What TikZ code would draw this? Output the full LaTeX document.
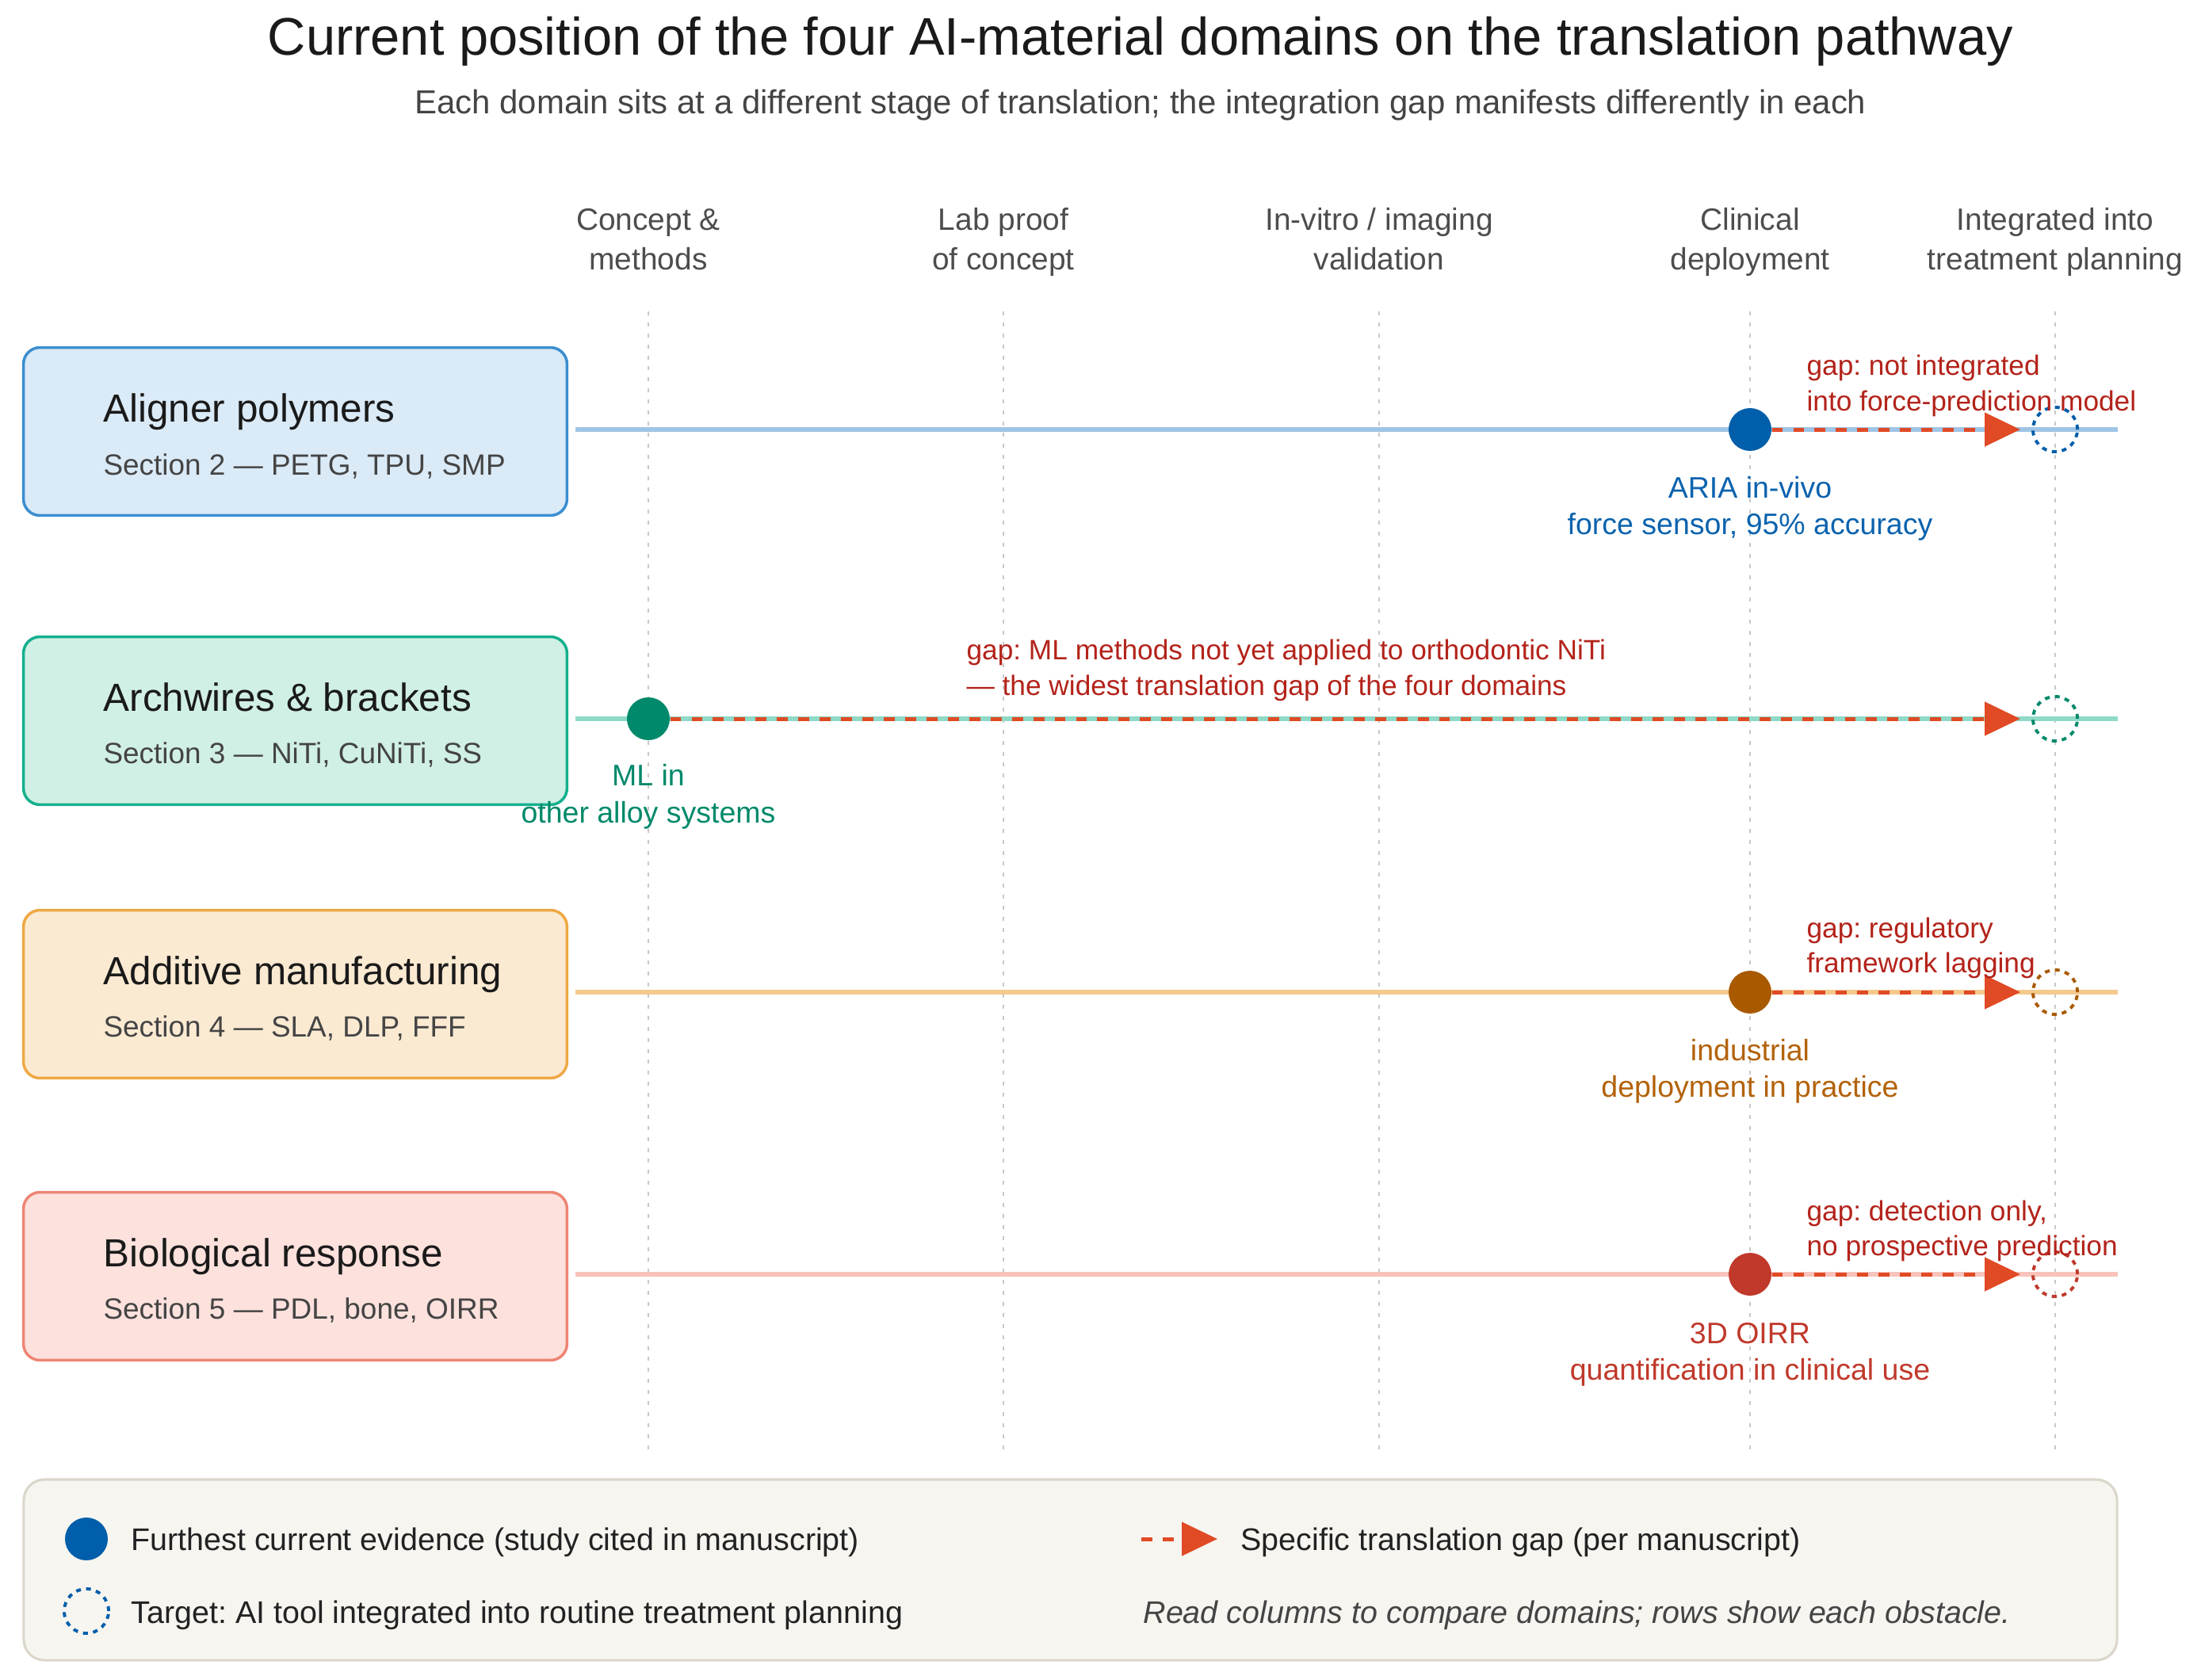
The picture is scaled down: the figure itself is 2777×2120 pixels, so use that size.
\documentclass[tikz,border=0pt]{standalone}
\usepackage{fontspec}
\setmainfont{Liberation Sans}
\usetikzlibrary{arrows.meta}
\frenchspacing
\definecolor{titlec}{HTML}{1A1A1A}
\definecolor{subc}{HTML}{444444}
\definecolor{hdrc}{HTML}{4D4D4D}
\definecolor{legtxt}{HTML}{222222}
\definecolor{vlinec}{HTML}{C8C8C8}
\definecolor{gaptext}{HTML}{B3231A}
\definecolor{gaparrow}{HTML}{E04A25}
\definecolor{fillA}{HTML}{DAEAF7}\definecolor{edgeA}{HTML}{3B8ED0}\definecolor{lineA}{HTML}{9FC4E5}\definecolor{dotA}{HTML}{005EAA}\definecolor{labA}{HTML}{0B63AE}
\definecolor{fillB}{HTML}{D1F0E5}\definecolor{edgeB}{HTML}{14B08E}\definecolor{lineB}{HTML}{8FD9C7}\definecolor{dotB}{HTML}{00896A}\definecolor{labB}{HTML}{00896A}
\definecolor{fillC}{HTML}{FBEAD2}\definecolor{edgeC}{HTML}{EEA843}\definecolor{lineC}{HTML}{F4C98E}\definecolor{dotC}{HTML}{A95A00}\definecolor{labC}{HTML}{B3620A}
\definecolor{fillD}{HTML}{FDE1DD}\definecolor{edgeD}{HTML}{EE8575}\definecolor{lineD}{HTML}{F8C3BB}\definecolor{dotD}{HTML}{C0392B}\definecolor{labD}{HTML}{C0392B}
\definecolor{legfill}{HTML}{F7F5F0}\definecolor{legedge}{HTML}{DBD6CA}
\tikzset{
  domainbox/.style={draw, line width=1.26pt, rounded corners=7.5pt, minimum width=246.9pt, minimum height=76.3pt, inner sep=0pt},
  boxtitle/.style={anchor=base west, font=\fontsize{17.8}{21}\selectfont, text=titlec, inner sep=0pt},
  boxsub/.style={anchor=base west, font=\fontsize{13.3}{16}\selectfont, text=subc, inner sep=0pt},
  hdr/.style={anchor=base, font=\fontsize{14}{17}\selectfont, text=hdrc, inner sep=0pt},
  dotlabel/.style={anchor=base, font=\fontsize{13.5}{16}\selectfont, inner sep=0pt},
  gaplabel/.style={anchor=base west, font=\fontsize{12.7}{15}\selectfont, text=gaptext, inner sep=0pt},
  legtext/.style={anchor=base west, font=\fontsize{14.2}{17}\selectfont, text=legtxt, inner sep=0pt},
  evid/.style={circle, minimum size=19.44pt, inner sep=0pt},
  target/.style={circle, draw, minimum size=20.2pt, line width=1.4pt, dash pattern=on 2.2pt off 2.4pt, inner sep=0pt},
  rowline/.style={line width=2.2pt},
  gapline/.style={draw=gaparrow, line width=1.8pt, dash pattern=on 5pt off 4.7pt, -{Triangle[length=16.2pt, width=15.1pt]}},
  vline/.style={draw=vlinec, line width=0.9pt, dash pattern=on 1.8pt off 3.2pt}
}
\begin{document}
\begin{tikzpicture}[x=0.36pt, y=-0.36pt]
\useasboundingbox (0,0) rectangle (2777,2120);
\fill[white] (0,0) rectangle (2777,2120);

% title
\node[anchor=base, font=\fontsize{24.05}{28}\selectfont, text=titlec, inner sep=0pt] (title) at (1439,69) {Current position of the four AI-material domains on the translation pathway};
\node[anchor=base, font=\fontsize{15.1}{18}\selectfont, text=subc, inner sep=0pt] (subtitle) at (1439,143) {Each domain sits at a different stage of translation; the integration gap manifests differently in each};

% column headers
\node[hdr] (h1a) at (818,290) {Concept \&};
\node[hdr] (h1b) at (818,340) {methods};
\node[hdr] (h2a) at (1266,290) {Lab proof};
\node[hdr] (h2b) at (1266,340) {of concept};
\node[hdr] (h3a) at (1740,290) {In-vitro / imaging};
\node[hdr] (h3b) at (1740,340) {validation};
\node[hdr] (h4a) at (2208,290) {Clinical};
\node[hdr] (h4b) at (2208,340) {deployment};
\node[hdr] (h5a) at (2593,290) {Integrated into};
\node[hdr] (h5b) at (2593,340) {treatment planning};

% vertical dotted column lines
\foreach \cx/\cn in {818/1,1266/2,1740/3,2208/4,2593/5}{
  \coordinate (vt\cn) at (\cx,393);
  \coordinate (vb\cn) at (\cx,1833);
  \draw[vline] (vt\cn) -- (vb\cn);
}

% ---------- Row A: Aligner polymers ----------
\node[domainbox, fill=fillA, draw=edgeA] (boxA) at (372.5,544.5) {};
\node[boxtitle] (titA) at (130,532) {Aligner polymers};
\node[boxsub] (subA) at (130,599) {Section 2 --- PETG, TPU, SMP};
\coordinate (rowAs) at (726,542);
\coordinate (rowAe) at (2672,542);
\draw[rowline, lineA] (rowAs) -- (rowAe);
\node[evid, fill=dotA] (dotA) at (2208,542) {};
\coordinate (tipA) at (2549,542);
\draw[gapline] (dotA.east) -- (tipA);
\node[target, draw=dotA] (tgtA) at (2593,542) {};
\node[dotlabel, text=labA] (labA1) at (2208,628) {ARIA in-vivo};
\node[dotlabel, text=labA] (labA2) at (2208,674) {force sensor, 95\% accuracy};
\node[gaplabel] (gapA1) at (2279,473) {gap: not integrated};
\node[gaplabel] (gapA2) at (2279,518) {into force-prediction model};

% ---------- Row B: Archwires & brackets ----------
\node[domainbox, fill=fillB, draw=edgeB] (boxB) at (372.5,909.5) {};
\node[boxtitle] (titB) at (130,897) {Archwires \& brackets};
\node[boxsub] (subB) at (130,963) {Section 3 --- NiTi, CuNiTi, SS};
\coordinate (rowBs) at (726,907);
\coordinate (rowBe) at (2672,907);
\draw[rowline, lineB] (rowBs) -- (rowBe);
\node[evid, fill=dotB] (dotB) at (818,907) {};
\coordinate (tipB) at (2549,907);
\draw[gapline] (dotB.east) -- (tipB);
\node[target, draw=dotB] (tgtB) at (2593,907) {};
\node[dotlabel, text=labB] (labB1) at (818,991) {ML in};
\node[dotlabel, text=labB] (labB2) at (818,1038) {other alloy systems};
\node[gaplabel] (gapB1) at (1219,832) {gap: ML methods not yet applied to orthodontic NiTi};
\node[gaplabel] (gapB2) at (1219,877) {--- the widest translation gap of the four domains};

% ---------- Row C: Additive manufacturing ----------
\node[domainbox, fill=fillC, draw=edgeC] (boxC) at (372.5,1254.5) {};
\node[boxtitle] (titC) at (130,1242) {Additive manufacturing};
\node[boxsub] (subC) at (130,1308) {Section 4 --- SLA, DLP, FFF};
\coordinate (rowCs) at (726,1252);
\coordinate (rowCe) at (2672,1252);
\draw[rowline, lineC] (rowCs) -- (rowCe);
\node[evid, fill=dotC] (dotC) at (2208,1252) {};
\coordinate (tipC) at (2549,1252);
\draw[gapline] (dotC.east) -- (tipC);
\node[target, draw=dotC] (tgtC) at (2593,1252) {};
\node[dotlabel, text=labC] (labC1) at (2208,1338) {industrial};
\node[dotlabel, text=labC] (labC2) at (2208,1384) {deployment in practice};
\node[gaplabel] (gapC1) at (2279,1183) {gap: regulatory};
\node[gaplabel] (gapC2) at (2279,1227) {framework lagging};

% ---------- Row D: Biological response ----------
\node[domainbox, fill=fillD, draw=edgeD] (boxD) at (372.5,1610.5) {};
\node[boxtitle] (titD) at (130,1598) {Biological response};
\node[boxsub] (subD) at (130,1664) {Section 5 --- PDL, bone, OIRR};
\coordinate (rowDs) at (726,1608);
\coordinate (rowDe) at (2672,1608);
\draw[rowline, lineD] (rowDs) -- (rowDe);
\node[evid, fill=dotD] (dotD) at (2208,1608) {};
\coordinate (tipD) at (2549,1608);
\draw[gapline] (dotD.east) -- (tipD);
\node[target, draw=dotD] (tgtD) at (2593,1608) {};
\node[dotlabel, text=labD] (labD1) at (2208,1695) {3D OIRR};
\node[dotlabel, text=labD] (labD2) at (2208,1741) {quantification in clinical use};
\node[gaplabel] (gapD1) at (2279,1540) {gap: detection only,};
\node[gaplabel] (gapD2) at (2279,1584) {no prospective prediction};

% ---------- Legend ----------
\node[draw=legedge, fill=legfill, line width=1.1pt, rounded corners=9.4pt, minimum width=950.8pt, minimum height=82.1pt, inner sep=0pt] (legend) at (1350.5,1981) {};
\node[evid, fill=dotA] (legdot) at (109,1942) {};
\node[legtext] (legdottxt) at (165,1956) {Furthest current evidence (study cited in manuscript)};
\node[target, draw=dotA] (legtgt) at (109,2033) {};
\node[legtext] (legtgttxt) at (165,2048) {Target: AI tool integrated into routine treatment planning};
\coordinate (leggapS) at (1440,1942);
\coordinate (leggapE) at (1536,1942);
\draw[gapline] (leggapS) -- (leggapE);
\node[legtext] (leggaptxt) at (1565,1956) {Specific translation gap (per manuscript)};
\node[legtext, text=subc, font=\fontsize{14.2}{17}\selectfont\itshape] (legnote) at (1442,2048) {Read columns to compare domains; rows show each obstacle.};
\end{tikzpicture}
\end{document}
